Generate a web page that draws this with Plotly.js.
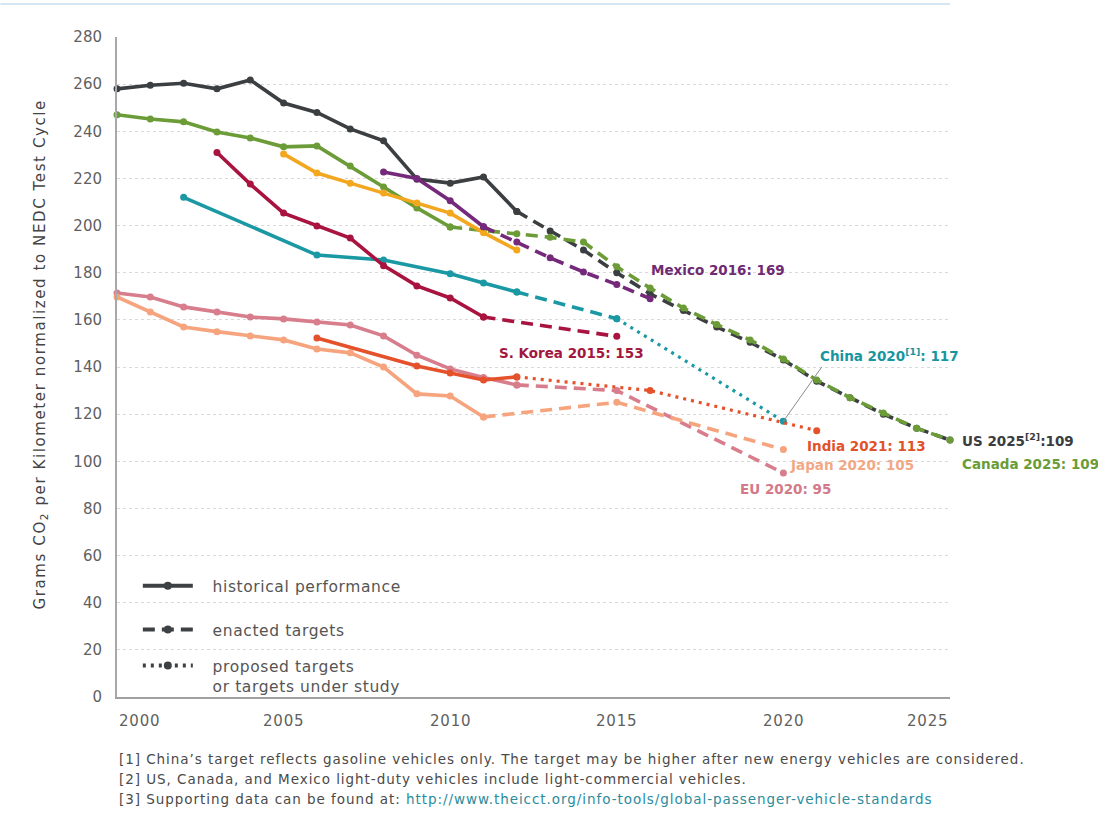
<!DOCTYPE html>
<html>
<head>
<meta charset="utf-8">
<script src="https://cdn.plot.ly/plotly-3.0.1.min.js"></script>
<style>html,body{margin:0;padding:0;background:#fff;}#chart{width:1098px;height:813px;}</style>
</head>
<body>
<div id="chart"></div>
<script>
// ---------- DATA ----------
// United States
const usHistYears = [2000,2001,2002,2003,2004,2005,2006,2007,2008,2009,2010,2011,2012];
const usHistVals  = [258,259.5,260.4,258,261.8,252,248,241,236,219.7,218,220.6,206];
const usEnactYears = [2012,2013,2014,2015,2016,2017,2018,2019,2020,2021,2022,2023,2024,2025];
const usEnactVals  = [206,197.7,189.6,180,171,164,157,150.5,143,134,127,120,114,109];
// Canada
const caHistYears = [2000,2001,2002,2003,2004,2005,2006,2007,2008,2009,2010];
const caHistVals  = [247,245.2,244,239.7,237.2,233.4,233.8,225.3,216.4,207.5,199.4];
const caEnactYears = [2010,2011,2012,2013,2014,2015,2016,2017,2018,2019,2020,2021,2022,2023,2024,2025];
const caEnactVals  = [199.4,198,196.5,195,193,182.5,173.5,165,158,151.5,143.4,134.5,127,120.5,114,109];
// Mexico
const mxHistYears = [2008,2009,2010,2011];
const mxHistVals  = [222.7,220,210.5,199.5];
const mxEnactYears = [2011,2012,2013,2014,2015,2016];
const mxEnactVals  = [199.5,193,186.3,180.3,175,169];
// Unlabelled yellow series (historical only)
const ylHistYears = [2005,2006,2007,2008,2009,2010,2011,2012];
const ylHistVals  = [230.4,222.3,218,213.8,209.6,205.3,197,189.6];
// China
const cnHistYears = [2002,2006,2008,2010,2011,2012];
const cnHistVals  = [212,187.5,185.4,179.6,175.6,171.8];
const cnEnactYears = [2012,2015];
const cnEnactVals  = [171.8,160.5];
const cnPropYears = [2015,2020];
const cnPropVals  = [160.5,117];
// South Korea
const krHistYears = [2003,2004,2005,2006,2007,2008,2009,2010,2011];
const krHistVals  = [231,217.6,205.3,199.8,194.7,183,174.4,169.3,161.2];
const krEnactYears = [2011,2015];
const krEnactVals  = [161.2,153];
// European Union
const euHistYears = [2000,2001,2002,2003,2004,2005,2006,2007,2008,2009,2010,2011,2012];
const euHistVals  = [171.4,169.7,165.5,163.3,161.2,160.4,159.1,157.8,153.2,145,139.2,135.5,132.4];
const euEnactYears = [2012,2015,2020];
const euEnactVals  = [132.4,130,95];
// Japan
const jpHistYears = [2000,2001,2002,2003,2004,2005,2006,2007,2008,2009,2010,2011];
const jpHistVals  = [169.7,163.3,157,155,153.2,151.5,147.6,146,140,128.6,127.7,118.8];
const jpEnactYears = [2011,2015,2020];
const jpEnactVals  = [118.8,125,105];
// India
const inHistYears = [2006,2009,2010,2011,2012];
const inHistVals  = [152.3,140.4,137.5,134.5,135.8];
const inPropYears = [2012,2016,2021];
const inPropVals  = [135.8,130,113];

// tick labels / text
const xTickVals = [2000,2005,2010,2015,2020,2025];
const xTickText = ['2000','2005','2010','2015','2020','2025'];
const legendNames = [['historical performance'],['enacted targets'],['proposed targets','or targets under study']];
const endLabels = [
  {text:'Mexico 2016: 169', x:2016, y:169, color:'#6e2b74'},
  {text:'S. Korea 2015: 153', x:2015, y:153, color:'#a3173f'},
  {text:'China 2020<sup>[1]</sup>: 117', x:2020, y:117, color:'#1795a0'},
  {text:'India 2021: 113', x:2021, y:113, color:'#e0522a'},
  {text:'Japan 2020: 105', x:2020, y:105, color:'#f3a884'},
  {text:'EU 2020: 95', x:2020, y:95, color:'#d27a89'},
  {text:'US 2025<sup>[2]</sup>:109', x:2025, y:109, color:'#3a3d40'},
  {text:'Canada 2025: 109', x:2025, y:109, color:'#6a9c38'}
];
const footnotes = [
  '[1] China\u2019s target reflects gasoline vehicles only. The target may be higher after new energy vehicles are considered.',
  '[2] US, Canada, and Mexico light-duty vehicles include light-commercial vehicles.',
  '[3] Supporting data can be found at: <span style="color:#2b8c9c">http://www.theicct.org/info-tools/global-passenger-vehicle-standards</span>'
];

// ---------- STYLES ----------
const C = {
  us:'#3b3f42', ca:'#6b9c37', mx:'#74297a', yl:'#f2a71e', cn:'#1a98a3',
  kr:'#a8143f', eu:'#d77d8c', jp:'#f6a47e', in:'#e4512a'
};
const DASH = {hist:'solid', enact:'12px,7px', prop:'3px,5px'};
const FONT = 'DejaVu Sans, Open Sans, sans-serif';
const sp = (t, ls) => '<span style="letter-spacing:' + ls + 'px">' + t + '</span>';

function seg(x, y, color, kind, name){
  return {
    type:'scatter', mode:'lines+markers', x:x, y:y, name:name,
    showlegend:false, cliponaxis:false, hoverinfo:'x+y+name',
    line:{color:color, width: kind==='prop'?3.2:3.6, dash:DASH[kind]},
    marker:{color:color, size:7}
  };
}

const traces = [
  seg(usHistYears, usHistVals, C.us, 'hist', 'US'),
  seg(usEnactYears, usEnactVals, C.us, 'enact', 'US target'),
  seg(caHistYears, caHistVals, C.ca, 'hist', 'Canada'),
  seg(caEnactYears, caEnactVals, C.ca, 'enact', 'Canada target'),
  seg(ylHistYears, ylHistVals, C.yl, 'hist', 'Other'),
  seg(mxHistYears, mxHistVals, C.mx, 'hist', 'Mexico'),
  seg(mxEnactYears, mxEnactVals, C.mx, 'enact', 'Mexico target'),
  seg(cnHistYears, cnHistVals, C.cn, 'hist', 'China'),
  seg(cnEnactYears, cnEnactVals, C.cn, 'enact', 'China target'),
  seg(cnPropYears, cnPropVals, C.cn, 'prop', 'China proposed'),
  seg(krHistYears, krHistVals, C.kr, 'hist', 'S. Korea'),
  seg(krEnactYears, krEnactVals, C.kr, 'enact', 'S. Korea target'),
  seg(euHistYears, euHistVals, C.eu, 'hist', 'EU'),
  seg(euEnactYears, euEnactVals, C.eu, 'enact', 'EU target'),
  seg(jpHistYears, jpHistVals, C.jp, 'hist', 'Japan'),
  seg(jpEnactYears, jpEnactVals, C.jp, 'enact', 'Japan target'),
  seg(inHistYears, inHistVals, C.in, 'hist', 'India'),
  seg(inPropYears, inPropVals, C.in, 'prop', 'India proposed')
];
// legend key entries, one legend box each so they can be spaced like the reference
const pad = '\u00a0\u00a0\u00a0';
const legIds = ['legend','legend2','legend3'];
['hist','enact','prop'].forEach((k,i)=>{
  traces.push({
    type:'scatter', mode:'lines+markers', x:[null], y:[null],
    name: legendNames[i].map(t => pad + sp(t, 0.6)).join('<br>'),
    legend: legIds[i], showlegend:true,
    line:{color:'#3d4144', width:4, dash:DASH[k]}, marker:{color:'#3d4144', size:8}
  });
});

// ---------- ANNOTATIONS ----------
const ann = [];
xTickVals.forEach((v,i)=>{
  ann.push({x:v, xref:'x', y:0, yref:'paper', yshift:-24, showarrow:false,
    text:sp(xTickText[i], 0.8), xanchor: i===0?'left':(i===xTickVals.length-1?'right':'center'),
    yanchor:'middle', font:{family:FONT, size:15, color:'#5f5f5f'}});
});
// pixel offsets of each end label from its end point: [xshift, yshift, xanchor]
const lblOff = [
  [-1, 29, 'left'],     // Mexico
  [-120, -17, 'left'],  // S. Korea
  [35, 66, 'left'],     // China
  [-12, -15, 'left'],   // India
  [5, -15, 'left'],     // Japan
  [-45, -16, 'left'],   // EU
  [10, 0, 'left'],      // US
  [10, -24, 'left']     // Canada
];
endLabels.forEach((l,i)=>{
  ann.push({x:l.x, y:l.y, xref:'x', yref:'y', showarrow:false, text:l.text,
    xshift:lblOff[i][0], yshift:lblOff[i][1], xanchor:lblOff[i][2], yanchor:'middle',
    font:{family:FONT, size:13.5, color:l.color, weight:'bold'}});
});
// footnotes
[-62,-82,-102].forEach((s,i)=>{
  ann.push({x:0, xref:'paper', y:0, yref:'paper', yshift:s, xanchor:'left', yanchor:'middle',
    showarrow:false, text:sp(footnotes[i], 0.95), align:'left',
    font:{family:FONT, size:13.5, color:'#4a4a4a'}});
});

const legBase = {x:0.025, xanchor:'left', bgcolor:'rgba(0,0,0,0)', valign:'top',
  font:{family:FONT, size:15.5, color:'#555'}, itemwidth:50};
const layout = {
  width:1098, height:813,
  margin:{l:117, r:148, t:37, b:116},
  paper_bgcolor:'#ffffff', plot_bgcolor:'#ffffff',
  showlegend:true,
  legend:  Object.assign({}, legBase, {y:0.168, yanchor:'middle'}),
  legend2: Object.assign({}, legBase, {y:0.1015, yanchor:'middle'}),
  legend3: Object.assign({}, legBase, {y:0.032, yanchor:'middle'}),
  xaxis:{range:[2000,2025], showticklabels:false, ticks:'', showgrid:false, zeroline:false,
    showline:true, linecolor:'#a0a0a0', linewidth:2},
  yaxis:{range:[0,280], dtick:20, tick0:0, ticks:'', showgrid:true, gridcolor:'#d9d9d9', griddash:'dot', gridwidth:1,
    zeroline:false, showline:true, linecolor:'#a8a8a8', linewidth:2, ticklabelstandoff:10,
    tickfont:{family:FONT, size:15, color:'#5f5f5f'},
    title:{text:sp('\u00a0\u00a0\u00a0\u00a0Grams CO<sub>2</sub> per Kilometer normalized to NEDC Test Cycle', 1.6), standoff:24,
      font:{family:FONT, size:15, color:'#444'}}},
  annotations:ann,
  shapes:[
    // top border artefact of the reference image
    {type:'line', xref:'paper', yref:'paper', x0:-0.14, x1:1.0, y0:1.05, y1:1.05, line:{color:'#d4e6f3', width:2}},
    // leader line from the China 2020 point to its label
    {type:'line', xref:'x', yref:'y', x0:2020, y0:117, x1:2021.15, y1:140, line:{color:'#8a8a8a', width:1}}
  ]
};

Plotly.newPlot('chart', traces, layout, {displayModeBar:false, staticPlot:true});
</script>
</body>
</html>
